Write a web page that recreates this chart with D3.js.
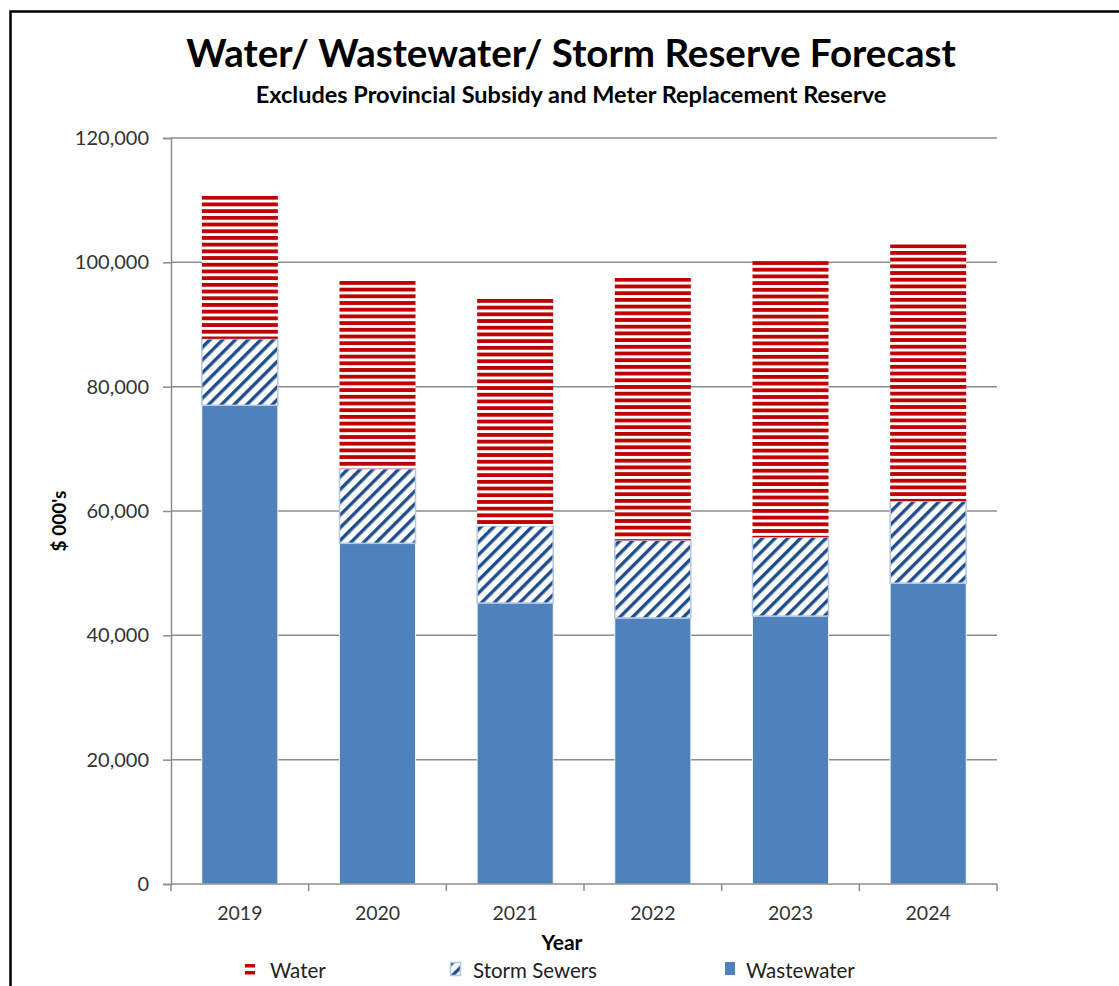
<!DOCTYPE html>
<html><head><meta charset="utf-8">
<script src="https://cdn.jsdelivr.net/npm/d3@7"></script>
<style>body{margin:0;background:#fff}svg{display:block}</style>
</head><body>
<script>
const years = ["2019","2020","2021","2022","2023","2024"];
const wastewater = [77000, 54800, 45200, 42800, 43100, 48400];
const stormSewers = [10700, 12000, 12400, 12500, 12700, 13200];
const water = [23000, 30200, 36500, 42200, 44400, 41300];
const yTicks = [0, 20000, 40000, 60000, 80000, 100000, 120000];
const seriesNames = ["Wastewater", "Storm Sewers", "Water"];

const W = 1119, H = 986;
const font = "Lato, 'Open Sans', sans-serif";
const svg = d3.select("body").append("svg").attr("width", W).attr("height", H);

const x = d3.scaleBand().domain(years).range([171, 997]).paddingInner(0.448).paddingOuter(0.224);
const y = d3.scaleLinear().domain([0,120000]).range([884, 138]);

const data = years.map((yr,i)=>({year:yr, Wastewater:wastewater[i], "Storm Sewers":stormSewers[i], Water:water[i]}));
const stack = d3.stack().keys(seriesNames)(data);

const defs = svg.append("defs");
// one water pattern per bar so stripes start at each bar's top
stack[2].forEach((d,i)=>{
  const pw = defs.append("pattern").attr("id","pWater"+i).attr("patternUnits","userSpaceOnUse")
    .attr("x", 0).attr("y", y(d[1])).attr("width", 10).attr("height", 6.7);
  pw.append("rect").attr("width",10).attr("height",6.7).attr("fill","#fff");
  pw.append("rect").attr("y",0).attr("width",10).attr("height",3.8).attr("fill","#C00000");
});
const ps = defs.append("pattern").attr("id","pStorm").attr("patternUnits","userSpaceOnUse")
  .attr("width", 9).attr("height", 9).attr("patternTransform","rotate(45)");
ps.append("rect").attr("width",9).attr("height",9).attr("fill","#fff");
ps.append("rect").attr("x",0).attr("width",3.4).attr("height",9).attr("fill","#1F4E8C");

// border
svg.append("path").attr("d", `M10.5,${H} V11.5 H${W}`).attr("fill","none").attr("stroke","#000").attr("stroke-width",2.5);

// gridlines
svg.append("g").selectAll("line").data(yTicks.slice(1)).join("line")
  .attr("x1",171).attr("x2",997).attr("y1",d=>y(d)).attr("y2",d=>y(d))
  .attr("stroke","#8c8c8c").attr("stroke-width",1.5);

stack.forEach(layer=>{
  svg.append("g").selectAll("rect").data(layer).join("rect")
    .attr("x", d=>x(d.data.year)).attr("width", x.bandwidth())
    .attr("y", d=>y(d[1])).attr("height", d=>y(d[0])-y(d[1]))
    .attr("fill", (d,i)=> layer.key==="Wastewater" ? "#4F81BD" : (layer.key==="Storm Sewers" ? "url(#pStorm)" : `url(#pWater${i})`))
    .attr("stroke", layer.key==="Storm Sewers" ? "#B4C7E7" : (layer.key==="Wastewater" ? "#fff" : "none"))
    .attr("stroke-width", layer.key==="Storm Sewers" ? 1.5 : 0.8);
});

// y axis
const yAxis = d3.axisLeft(y).tickValues(yTicks).tickSize(8).tickPadding(14).tickFormat(d3.format(","));
const ga = svg.append("g").attr("transform","translate(171,0)").call(yAxis);
ga.select(".domain").attr("stroke","#8c8c8c").attr("stroke-width",1.5);
ga.selectAll(".tick line").attr("stroke","#8c8c8c").attr("stroke-width",1.5);
ga.selectAll("text").attr("font-family",font).attr("font-size",20).attr("fill","#333");

// x axis
svg.append("line").attr("x1",171).attr("x2",997).attr("y1",884).attr("y2",884).attr("stroke","#8c8c8c").attr("stroke-width",1.5);
const bounds = d3.range(years.length+1).map(i=>171 + i*x.step());
svg.append("g").selectAll("line").data(bounds).join("line")
  .attr("x1",d=>d).attr("x2",d=>d).attr("y1",884).attr("y2",891).attr("stroke","#8c8c8c").attr("stroke-width",1.5);
svg.append("g").selectAll("text").data(years).join("text")
  .attr("x",d=>x(d)+x.bandwidth()/2).attr("y",920).attr("text-anchor","middle")
  .attr("font-family",font).attr("font-size",19.5).attr("fill","#333").text(d=>d);

// titles
svg.append("text").attr("x",571).attr("y",67).attr("text-anchor","middle")
  .attr("font-family",font).attr("font-weight","bold").attr("font-size",38.5).attr("fill","#000")
  .text("Water/ Wastewater/ Storm Reserve Forecast");
svg.append("text").attr("x",571).attr("y",103).attr("text-anchor","middle")
  .attr("font-family",font).attr("font-weight","bold").attr("font-size",23.5).attr("fill","#000")
  .text("Excludes Provincial Subsidy and Meter Replacement Reserve");
svg.append("text").attr("transform","translate(66,521) rotate(-90)").attr("text-anchor","middle")
  .attr("font-family",font).attr("font-weight","bold").attr("font-size",19).attr("fill","#000")
  .text("$ 000's");
svg.append("text").attr("x",562).attr("y",950).attr("text-anchor","middle")
  .attr("font-family",font).attr("font-weight","bold").attr("font-size",21).attr("fill","#000")
  .text("Year");

// legend
const legend = [
  {name:"Water", mx:245, tx:270},
  {name:"Storm Sewers", mx:450, tx:473},
  {name:"Wastewater", mx:725, tx:746}
];
const lg = svg.append("g");
legend.forEach(l=>{
  if (l.name==="Water") {
    lg.append("rect").attr("x",l.mx).attr("y",964).attr("width",10).attr("height",3.5).attr("fill","#C00000");
    lg.append("rect").attr("x",l.mx).attr("y",971).attr("width",10).attr("height",3.5).attr("fill","#C00000");
  } else if (l.name==="Storm Sewers") {
    lg.append("rect").attr("x",l.mx+0.5).attr("y",962.5).attr("width",10).attr("height",13)
      .attr("fill","url(#pStorm)").attr("stroke","#B4C7E7").attr("stroke-width",1.5);
  } else {
    lg.append("rect").attr("x",l.mx).attr("y",962).attr("width",10).attr("height",13).attr("fill","#4F81BD");
  }
  lg.append("text").attr("x",l.tx).attr("y",978).attr("font-family",font).attr("font-size",20.5).attr("fill","#222").text(l.name);
});
</script>
</body></html>
